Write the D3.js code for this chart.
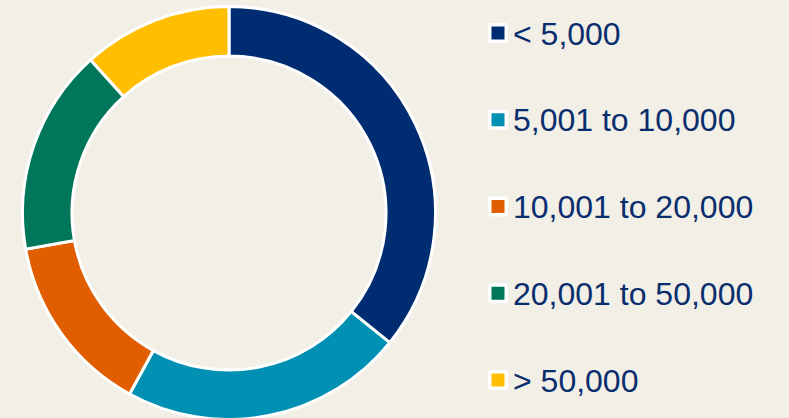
<!DOCTYPE html>
<html>
<head>
<meta charset="utf-8">
<script src="https://cdn.jsdelivr.net/npm/d3@7/dist/d3.min.js"></script>
<style>
  html, body { margin: 0; padding: 0; background: #F2EFE7; }
  svg { display: block; }
</style>
</head>
<body>
<svg id="chart" width="789" height="418"></svg>
<script>
const categories = ["< 5,000", "5,001 to 10,000", "10,001 to 20,000", "20,001 to 50,000", "> 50,000"];
const values = [35.8, 22.2, 14.2, 16.1, 11.7];
const colors = ["#002C72", "#0090B4", "#E05D00", "#00775B", "#FFBF00"];

const svg = d3.select("#chart");
const W = 789, H = 418;
svg.append("rect").attr("width", W).attr("height", H).attr("fill", "#F2EFE7");

const cx = 229, cy = 213, rOuter = 206.5, rInner = 157;
const pie = d3.pie().sort(null).value(d => d.v);
const arc = d3.arc().innerRadius(rInner).outerRadius(rOuter);
const data = categories.map((c, i) => ({ c, v: values[i], color: colors[i] }));

const g = svg.append("g").attr("transform", `translate(${cx},${cy})`);
g.selectAll("path").data(pie(data)).enter().append("path")
  .attr("d", arc)
  .attr("fill", d => d.data.color)
  .attr("stroke", "#FFFFFF")
  .attr("stroke-width", 3)
  .attr("stroke-linejoin", "miter");

const y = d3.scalePoint().domain(categories).range([33, 380]);
const leg = svg.append("g");
const items = leg.selectAll("g").data(data).enter().append("g")
  .attr("transform", d => `translate(498,${y(d.c)})`);
items.append("rect").attr("x", -10).attr("y", -10).attr("width", 20).attr("height", 20)
  .attr("rx", 3).attr("fill", "#FFFFFF");
items.append("rect").attr("x", -6.5).attr("y", -6.5).attr("width", 13).attr("height", 13)
  .attr("fill", d => d.color);
items.append("text").attr("x", 15).attr("y", 11.5)
  .attr("font-family", "Liberation Sans, Arial, sans-serif")
  .attr("font-size", 32)
  .attr("fill", "#0A2D6E")
  .text(d => d.c);
</script>
</body>
</html>
